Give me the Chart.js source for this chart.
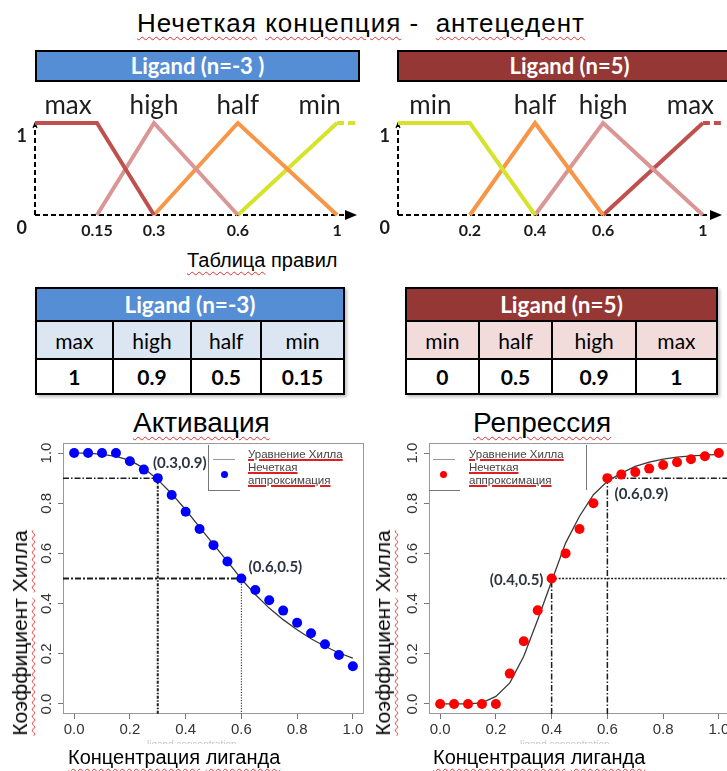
<!DOCTYPE html>
<html>
<head>
<meta charset="utf-8">
<script src="https://cdn.jsdelivr.net/npm/chart.js@4.4.1/dist/chart.umd.min.js"></script>
<style>
html, body { margin: 0; padding: 0; background: #fff; overflow: hidden; width: 727px; height: 771px; }
body { position: relative; font-family: "Liberation Sans", Arial, sans-serif; color: #000; }
.abs { position: absolute; white-space: nowrap; }
.wavy { text-decoration: underline wavy #e03030; text-decoration-thickness: 1px; text-underline-offset: 4px; }
.bar { position: absolute; box-sizing: border-box; border: 2px solid #000; color: #fff;
       font: bold 22px Lato, "Open Sans", sans-serif; text-align: center; line-height: 28px; }
table { position: absolute; border-collapse: collapse; font-family: Lato, "Open Sans", sans-serif; font-size: 21px;
        box-shadow: 2px 2px 3px rgba(0,0,0,0.25); }
td { border: 2px solid #000; text-align: center; padding: 0; }
td.hd { color: #fff; font-weight: bold; font-size: 22.5px; }
td.val { font-weight: bold; background: #fff; }
canvas { position: absolute; }
.leg { position: absolute; font-size: 11.5px; line-height: 13px; color: #444; }
.leg span { text-decoration: underline solid #e02020; text-decoration-thickness: 1.5px; text-underline-offset: 1px; }
</style>
</head>
<body>

<div class="abs" style="left:137px; top:8px; font-size:26px; letter-spacing:1px;"><span class="wavy">Нечеткая</span> <span class="wavy">концепция</span> -&nbsp; <span class="wavy">антецедент</span></div>

<div class="bar" style="left:35px; top:50px; width:325px; height:32px; background:#558ED5;">Ligand (n=-3 )</div>
<div class="bar" style="left:397px; top:50px; width:345px; height:32px; background:#953735;">Ligand (n=5)</div>

<canvas id="mfAct" width="363" height="160" style="left:0px; top:88px;"></canvas>
<canvas id="mfRep" width="364" height="160" style="left:363px; top:88px;"></canvas>

<div class="abs" style="left:187px; top:249px; font-size:20px;"><span class="wavy">Таблица</span> правил</div>

<table id="tabAct" style="left:35px; top:287px; width:310px;">
  <tr style="height:33px;"><td class="hd" colspan="4" style="background:#558ED5;">Ligand (n=-3)</td></tr>
  <tr style="height:38px; background:#DCE6F2;" id="actNamesRow"></tr>
  <tr style="height:35px;" id="actValsRow"></tr>
</table>
<table id="tabRep" style="left:405px; top:287px; width:313px;">
  <tr style="height:33px;"><td class="hd" colspan="4" style="background:#953735;">Ligand (n=5)</td></tr>
  <tr style="height:38px; background:#F2DCDB;" id="repNamesRow"></tr>
  <tr style="height:35px;" id="repValsRow"></tr>
</table>

<div class="abs" style="left:133px; top:407px; font-size:28px;"><span class="wavy">Активация</span></div>
<div class="abs" style="left:473px; top:407px; font-size:28px;"><span class="wavy">Репрессия</span></div>

<canvas id="hillAct" width="372" height="320" style="left:0px; top:430px;"></canvas>
<canvas id="hillRep" width="377" height="320" style="left:363px; top:430px;"></canvas>

<!-- легенды -->
<div class="abs" style="left:208px; top:445px; width:0; height:45px; border-left:1px solid #777;"></div>
<div class="abs" style="left:208px; top:490px; width:32px; height:0; border-top:1px solid #777;"></div>
<div class="abs" style="left:213px; top:459px; width:22px; height:1px; background:#999;"></div>
<div class="abs" style="left:221px; top:471px; width:7px; height:7px; border-radius:50%; background:#0000ff;"></div>
<div class="leg" style="left:248px; top:448px;"><span>Уравнение Хилла</span><br><span>Нечеткая</span><br><span>аппроксимация</span></div>

<div class="abs" style="left:429px; top:490px; width:31px; height:0; border-top:1px solid #777;"></div>
<div class="abs" style="left:586px; top:445px; width:0; height:45px; border-left:1px solid #777;"></div>
<div class="abs" style="left:433px; top:459px; width:22px; height:1px; background:#999;"></div>
<div class="abs" style="left:440px; top:471px; width:7px; height:7px; border-radius:50%; background:#ff0000;"></div>
<div class="leg" style="left:469px; top:448px;"><span>Уравнение Хилла</span><br><span>Нечеткая</span><br><span>аппроксимация</span></div>

<!-- подписи осей -->
<div class="abs" style="left:20px; top:633px; font-size:21px; transform:translate(-50%,-50%) rotate(-90deg);"><span class="wavy">Коэффициент</span> <span class="wavy">Хилла</span></div>
<div class="abs" style="left:383px; top:633px; font-size:21px; transform:translate(-50%,-50%) rotate(-90deg);"><span class="wavy">Коэффициент</span> <span class="wavy">Хилла</span></div>
<div class="abs" style="left:147px; top:739px; height:5px; overflow:hidden; font-size:10px; color:#c8c8c8;">ligand concentration</div>
<div class="abs" style="left:520px; top:739px; height:5px; overflow:hidden; font-size:10px; color:#c8c8c8;">ligand concentration</div>
<div class="abs" style="left:68px; top:746px; font-size:20px;"><span class="wavy">Концентрация</span> <span class="wavy">лиганда</span></div>
<div class="abs" style="left:433px; top:746px; font-size:20px;"><span class="wavy">Концентрация</span> <span class="wavy">лиганда</span></div>

<script>
// ---- Функции принадлежности (антецедент) ----
const actTermNames = ['max', 'high', 'half', 'min'];
const actTermX = [[0, 0.15, 0.3], [0.15, 0.3, 0.6], [0.3, 0.6, 1], [0.6, 1]];
const actTermY = [[1, 1, 0], [0, 1, 0], [0, 1, 0], [0, 1]];
const actTailX = [1, 1.07];
const actTailY = [1, 1];
const actTicks = [0.15, 0.3, 0.6, 1];
const actNameX = [0.08, 0.3, 0.6, 0.93];

const repTermNames = ['min', 'half', 'high', 'max'];
const repTermX = [[0, 0.2, 0.4], [0.2, 0.4, 0.6], [0.4, 0.6, 1], [0.6, 1]];
const repTermY = [[1, 1, 0], [0, 1, 0], [0, 1, 0], [0, 1]];
const repTailX = [1, 1.07];
const repTailY = [1, 1];
const repTicks = [0.2, 0.4, 0.6, 1];
const repNameX = [0.09, 0.4, 0.6, 0.95];

// ---- Таблица правил ----
const actRuleValues = ['1', '0.9', '0.5', '0.15'];
const repRuleValues = ['0', '0.5', '0.9', '1'];

// ---- Уравнение Хилла и нечеткая аппроксимация ----
const conc = [0, 0.05, 0.1, 0.15, 0.2, 0.25, 0.3, 0.35, 0.4, 0.45, 0.5,
              0.55, 0.6, 0.65, 0.7, 0.75, 0.8, 0.85, 0.9, 0.95, 1.0];
const actHill  = [1.0, 1.0, 0.995, 0.987, 0.971, 0.94, 0.894, 0.838, 0.774, 0.705, 0.636,
                  0.568, 0.498, 0.436, 0.382, 0.336, 0.296, 0.26, 0.23, 0.203, 0.183];
const actFuzzy = [1.0, 1.0, 1.0, 1.0, 0.967, 0.934, 0.9, 0.833, 0.766, 0.697, 0.633,
                  0.568, 0.5, 0.454, 0.413, 0.372, 0.324, 0.282, 0.238, 0.195, 0.15];
const repHill  = [0, 0, 0, 0.004, 0.03, 0.084, 0.19, 0.336, 0.489, 0.641, 0.748,
                  0.834, 0.887, 0.92, 0.947, 0.964, 0.976, 0.984, 0.989, 0.992, 0.995];
const repFuzzy = [0, 0, 0, 0, 0, 0.121, 0.25, 0.373, 0.5, 0.6, 0.697,
                  0.8, 0.9, 0.914, 0.924, 0.938, 0.952, 0.963, 0.975, 0.987, 1.0];
const hillTicks = [0, 0.2, 0.4, 0.6, 0.8, 1.0];
const actGuideX = [0.3, 0.6];
const actGuideY = [0.9, 0.5];
const repGuideX = [0.4, 0.6];
const repGuideY = [0.5, 0.9];

// таблицы
function fillRow(id, cells, cls) {
  document.getElementById(id).innerHTML = cells.map(c => '<td class="' + cls + '">' + c + '</td>').join('');
}
fillRow('actNamesRow', actTermNames, '');
fillRow('actValsRow', actRuleValues, 'val');
fillRow('repNamesRow', repTermNames, '');
fillRow('repValsRow', repRuleValues, 'val');

// шкала с неравномерной разметкой (как на схеме)
const warpBreaks = {
  mfAct: { v: [0, 0.15, 0.3, 0.6, 1, 1.07], d: [0, 0.1925, 0.3696, 0.630, 0.938, 1] },
  mfRep: { v: [0, 0.2, 0.4, 0.6, 1, 1.07], d: [0, 0.222, 0.423, 0.633, 0.941, 1] }
};
class WarpScale extends Chart.LinearScale {
  getPixelForValue(value) {
    const b = warpBreaks[this.chart.canvas.id];
    let d = 0;
    for (let i = 1; i < b.v.length; i++) {
      if (value <= b.v[i] || i === b.v.length - 1) {
        const t = (value - b.v[i - 1]) / (b.v[i] - b.v[i - 1]);
        d = b.d[i - 1] + t * (b.d[i] - b.d[i - 1]);
        break;
      }
    }
    return this.getPixelForDecimal(d);
  }
}
WarpScale.id = 'warp';
WarpScale.defaults = {};
Chart.register(WarpScale);

const termColors = { max: '#C0504D', high: '#D99694', half: '#F79646', min: '#D7E32B' };

function mfChart(id, names, termX, termY, tailX, tailY, ticks, nameX) {
  const datasets = termX.map((xs, i) => ({
    data: xs.map((x, j) => ({ x: x, y: termY[i][j] })),
    borderColor: termColors[names[i]], borderWidth: 4, pointRadius: 0, clip: false
  }));
  datasets.push({
    data: tailX.map((x, j) => ({ x: x, y: tailY[j] })),
    borderColor: termColors[names[names.length - 1]], borderWidth: 4, borderDash: [7, 4], pointRadius: 0, clip: false
  });
  new Chart(document.getElementById(id), {
    type: 'line',
    data: { datasets: datasets },
    options: {
      responsive: false, animation: false, events: [],
      layout: { padding: { top: 35, right: id === 'mfAct' ? 6 : 5 } },
      plugins: { legend: { display: false }, tooltip: { enabled: false } },
      scales: {
        x: {
          type: 'warp', min: 0, max: 1.07,
          grid: { display: false, drawTicks: false }, border: { display: false },
          afterBuildTicks: s => { s.ticks = ticks.map(v => ({ value: v })); },
          afterFit: s => { s.height = 33; },
          ticks: { font: { family: 'Lato', weight: 'bold', size: 16 }, color: '#1a1a1a', padding: 6,
                   maxRotation: 0, autoSkip: false, callback: v => String(v) }
        },
        y: {
          type: 'linear', min: 0, max: 1,
          grid: { display: false, drawTicks: false }, border: { display: false },
          afterBuildTicks: s => { s.ticks = [{ value: 0 }, { value: 1 }]; },
          afterFit: s => { s.width = 35; },
          ticks: { font: { family: 'Lato', weight: 'bold', size: 18 }, color: '#1a1a1a', padding: 8,
                   labelOffset: 13, callback: v => String(v) }
        }
      }
    },
    plugins: [{
      id: 'mfAxes',
      beforeDatasetsDraw(chart) {
        const { ctx, chartArea: a } = chart;
        ctx.save();
        ctx.strokeStyle = '#000';
        ctx.lineWidth = 2;
        ctx.setLineDash([5, 3]);
        ctx.beginPath();
        ctx.moveTo(a.left, a.bottom); ctx.lineTo(a.right - 11, a.bottom);
        ctx.moveTo(a.left, a.bottom); ctx.lineTo(a.left, a.top + 2);
        ctx.stroke();
        ctx.setLineDash([]);
        ctx.fillStyle = '#000';
        ctx.beginPath();
        ctx.moveTo(a.right - 12, a.bottom - 5); ctx.lineTo(a.right, a.bottom); ctx.lineTo(a.right - 12, a.bottom + 5);
        ctx.closePath(); ctx.fill();
        ctx.lineWidth = 1.2;
        ctx.beginPath();
        ctx.moveTo(a.left - 2, a.top + 5); ctx.lineTo(a.left, a.top); ctx.lineTo(a.left + 2, a.top + 5);
        ctx.stroke();
        ctx.restore();
      },
      afterDraw(chart) {
        const { ctx, chartArea: a } = chart;
        const xs = chart.scales.x;
        ctx.save();
        ctx.fillStyle = '#1e1e1e';
        ctx.font = '26px Lato, "Open Sans", sans-serif';
        ctx.textAlign = 'center';
        ctx.textBaseline = 'middle';
        names.forEach((n, i) => ctx.fillText(n, xs.getPixelForValue(nameX[i]), a.top - 17));
        ctx.restore();
      }
    }]
  });
}
mfChart('mfAct', actTermNames, actTermX, actTermY, actTailX, actTailY, actTicks, actNameX);
mfChart('mfRep', repTermNames, repTermX, repTermY, repTailX, repTailY, repTicks, repNameX);

// ---- графики Хилла ----
const X_MIN = -0.04, X_MAX = 1.04, Y_MIN = -0.04, Y_MAX = 1.04;

function hillChart(id, hill, fuzzy, dotColor, guides, notes, yWidth, padRight) {
  const datasets = [
    { data: conc.map((x, i) => ({ x: x, y: fuzzy[i] })), showLine: false, pointRadius: 5,
      pointBackgroundColor: dotColor, pointBorderWidth: 0, order: 0 },
    { data: conc.map((x, i) => ({ x: x, y: hill[i] })), borderColor: '#3a3a3a', borderWidth: 1.3,
      pointRadius: 0, order: 1 }
  ];
  guides.forEach(g => datasets.push({
    data: g.pts, borderColor: '#1e1e1e', borderWidth: g.w, borderDash: g.dash, pointRadius: 0, order: 2
  }));
  new Chart(document.getElementById(id), {
    type: 'line',
    data: { datasets: datasets },
    options: {
      responsive: false, animation: false, events: [],
      layout: { padding: { top: 13, right: padRight } },
      plugins: { legend: { display: false }, tooltip: { enabled: false } },
      scales: {
        x: {
          type: 'linear', min: X_MIN, max: X_MAX,
          grid: { drawOnChartArea: false, tickLength: 5, color: '#777' }, border: { display: false },
          afterBuildTicks: s => { s.ticks = hillTicks.map(v => ({ value: v })); },
          afterFit: s => { s.height = 36; },
          ticks: { font: { family: 'Liberation Sans', size: 15 }, color: '#333', padding: 2,
                   maxRotation: 0, autoSkip: false, callback: v => v.toFixed(1) }
        },
        y: {
          type: 'linear', min: Y_MIN, max: Y_MAX,
          grid: { drawOnChartArea: false, tickLength: 5, color: '#777' }, border: { display: false },
          afterBuildTicks: s => { s.ticks = hillTicks.map(v => ({ value: v })); },
          afterFit: s => { s.width = yWidth; },
          ticks: { display: false }
        }
      }
    },
    plugins: [{
      id: 'hillDecor',
      beforeDatasetsDraw(chart) {
        const { ctx, chartArea: a } = chart;
        ctx.save();
        ctx.strokeStyle = '#999';
        ctx.lineWidth = 1;
        ctx.strokeRect(a.left + 0.5, a.top + 0.5, a.right - a.left - 1, a.bottom - a.top - 1);
        const ys = chart.scales.y;
        ctx.fillStyle = '#333';
        ctx.font = '15px "Liberation Sans", Arial, sans-serif';
        ctx.textAlign = 'center';
        ctx.textBaseline = 'middle';
        hillTicks.forEach(v => {
          ctx.save();
          ctx.translate(a.left - 16, ys.getPixelForValue(v));
          ctx.rotate(-Math.PI / 2);
          ctx.fillText(v.toFixed(1), 0, 0);
          ctx.restore();
        });
        ctx.restore();
      },
      afterDraw(chart) {
        const { ctx } = chart;
        const xs = chart.scales.x, ys = chart.scales.y;
        ctx.save();
        ctx.fillStyle = '#2d3540';
        ctx.font = 'bold 15px Lato, "Open Sans", sans-serif';
        ctx.textAlign = 'center';
        ctx.textBaseline = 'middle';
        notes.forEach(n => ctx.fillText(n.text, xs.getPixelForValue(n.x) + n.dx, ys.getPixelForValue(n.y) + n.dy));
        ctx.restore();
      }
    }]
  });
}

const dashDot = [6, 2, 1.5, 2];
const actGuides = [
  { pts: [{ x: X_MIN, y: actGuideY[0] }, { x: actGuideX[0], y: actGuideY[0] }], dash: dashDot, w: 1.5 },
  { pts: [{ x: actGuideX[0], y: actGuideY[0] }, { x: actGuideX[0], y: Y_MIN }], dash: [3, 1.5, 1.5, 1.5], w: 2 },
  { pts: [{ x: X_MIN, y: actGuideY[1] }, { x: actGuideX[1], y: actGuideY[1] }], dash: [6, 2, 2, 2], w: 1.8 },
  { pts: [{ x: actGuideX[1], y: actGuideY[1] }, { x: actGuideX[1], y: Y_MIN }], dash: [1.2, 1.5], w: 1 }
];
const repGuides = [
  { pts: [{ x: repGuideX[0], y: Y_MIN }, { x: repGuideX[0], y: repGuideY[0] }], dash: dashDot, w: 1.5 },
  { pts: [{ x: repGuideX[0], y: repGuideY[0] }, { x: X_MAX, y: repGuideY[0] }], dash: [2, 1.5], w: 1.3 },
  { pts: [{ x: repGuideX[1], y: Y_MIN }, { x: repGuideX[1], y: repGuideY[1] }], dash: dashDot, w: 1.5 },
  { pts: [{ x: repGuideX[1], y: repGuideY[1] }, { x: X_MAX, y: repGuideY[1] }], dash: dashDot, w: 1.5 }
];
const actNotes = [
  { text: '(0.3,0.9)', x: actGuideX[0], y: actGuideY[0], dx: 22, dy: -15 },
  { text: '(0.6,0.5)', x: actGuideX[1], y: actGuideY[1], dx: 34, dy: -11 }
];
const repNotes = [
  { text: '(0.4,0.5)', x: repGuideX[0], y: repGuideY[0], dx: -35, dy: 2 },
  { text: '(0.6,0.9)', x: repGuideX[1], y: repGuideY[1], dx: 34, dy: 16 }
];

hillChart('hillAct', actHill, actFuzzy, '#0000ff', actGuides, actNotes, 63, 8);
hillChart('hillRep', repHill, repFuzzy, '#ff0000', repGuides, repNotes, 66, 10);
</script>
</body>
</html>
